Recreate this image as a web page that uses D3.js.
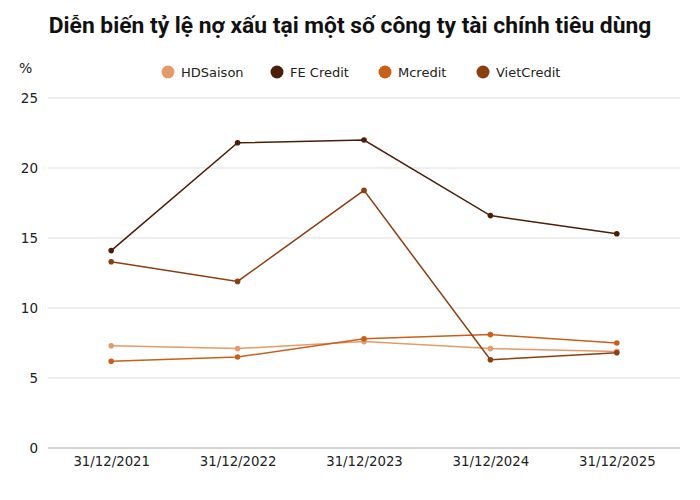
<!DOCTYPE html>
<html>
<head>
<meta charset="utf-8">
<script src="https://cdn.jsdelivr.net/npm/d3@7"></script>
<style>
  body { margin: 0; background: #fff; }
  text { font-family: "DejaVu Sans", Verdana, sans-serif; }
</style>
</head>
<body>
<div id="chart"></div>
<script>
// data (% non-performing loans)
var dates = ["31/12/2021", "31/12/2022", "31/12/2023", "31/12/2024", "31/12/2025"];
var seriesNames = ["HDSaison", "FE Credit", "Mcredit", "VietCredit"];
var hdsaison   = [7.3, 7.1, 7.6, 7.1, 6.9];
var feCredit   = [14.1, 21.8, 22.0, 16.6, 15.3];
var mcredit    = [6.2, 6.5, 7.8, 8.1, 7.5];
var vietCredit = [13.3, 11.9, 18.4, 6.3, 6.8];
var yTicks = [0, 5, 10, 15, 20, 25];

var colors = ["#e39b6b", "#4a1e08", "#c9601a", "#8a3f12"];
var allSeries = [hdsaison, feCredit, mcredit, vietCredit];

var width = 700, height = 500;
var margin = {top: 98, right: 20, bottom: 52, left: 48};

var svg = d3.select("#chart").append("svg")
    .attr("width", width)
    .attr("height", height);

// title
svg.append("text")
    .attr("x", 350)
    .attr("y", 33)
    .attr("text-anchor", "middle")
    .style("font-family", "Roboto, sans-serif")
    .style("font-weight", "bold")
    .style("font-size", "22.8px")
    .attr("fill", "#111")
    .text("Diễn biến tỷ lệ nợ xấu tại một số công ty tài chính tiêu dùng");

var x = d3.scalePoint()
    .domain(dates)
    .range([margin.left, width - margin.right])
    .padding(0.5);

var y = d3.scaleLinear()
    .domain([0, 25])
    .range([height - margin.bottom, margin.top]);

// grid lines
svg.append("g")
    .selectAll("line")
    .data(yTicks)
    .enter()
    .append("line")
    .attr("x1", margin.left)
    .attr("x2", width - margin.right)
    .attr("y1", function(d) { return y(d); })
    .attr("y2", function(d) { return y(d); })
    .attr("stroke", function(d) { return d == 0 ? "#aaa" : "#ddd"; })
    .attr("stroke-width", 1.2);

// y axis labels
var yAxis = svg.append("g")
    .attr("transform", "translate(" + (margin.left - 10) + ",0)")
    .call(d3.axisLeft(y).tickValues(yTicks).tickSize(0).tickPadding(0));
yAxis.select(".domain").remove();
yAxis.selectAll("text").style("font-size", "13.5px").attr("fill", "#222");

svg.append("text")
    .attr("x", 19)
    .attr("y", 73)
    .style("font-size", "14px")
    .attr("fill", "#222")
    .text("%");

// x axis labels
var xAxis = svg.append("g")
    .attr("transform", "translate(0," + (height - margin.bottom) + ")")
    .call(d3.axisBottom(x).tickSize(0).tickPadding(9));
xAxis.select(".domain").remove();
xAxis.selectAll("text").style("font-size", "13.3px").attr("fill", "#222");

// legend
var legendX = [168, 277, 385, 483];
var legend = svg.append("g").selectAll("g")
    .data(seriesNames)
    .enter()
    .append("g")
    .attr("transform", function(d, i) { return "translate(" + legendX[i] + ",72)"; });
legend.append("circle")
    .attr("r", 6.5)
    .attr("fill", function(d, i) { return colors[i]; });
legend.append("text")
    .attr("x", 13)
    .attr("dy", "0.35em")
    .style("font-size", "13px")
    .attr("fill", "#222")
    .text(function(d) { return d; });

// lines and dots
var line = d3.line()
    .x(function(d, i) { return x(dates[i]); })
    .y(function(d) { return y(d); });

allSeries.forEach(function(values, k) {
    var g = svg.append("g");
    g.append("path")
        .datum(values)
        .attr("d", line)
        .attr("fill", "none")
        .attr("stroke", colors[k])
        .attr("stroke-width", 1.5);
    g.selectAll("circle")
        .data(values)
        .enter()
        .append("circle")
        .attr("cx", function(d, i) { return x(dates[i]); })
        .attr("cy", function(d) { return y(d); })
        .attr("r", 2.8)
        .attr("fill", colors[k]);
});
</script>
</body>
</html>
